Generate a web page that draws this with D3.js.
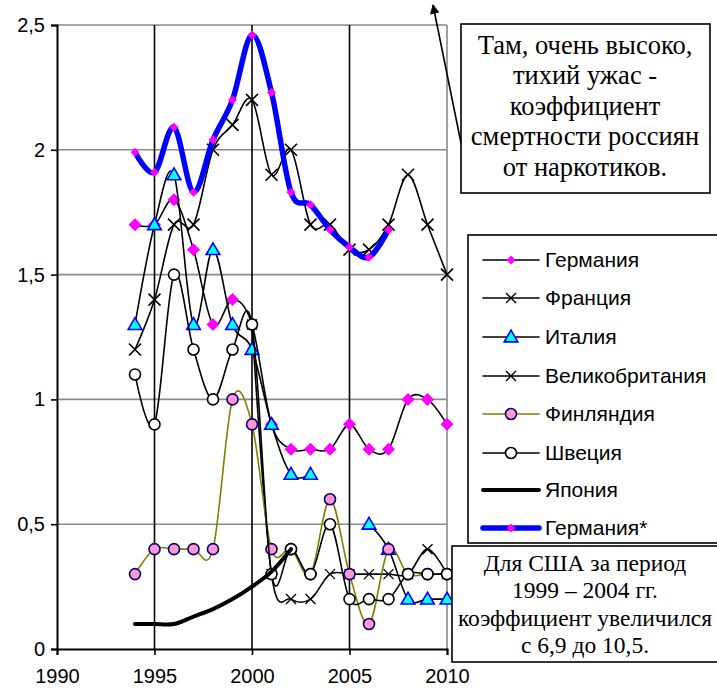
<!DOCTYPE html>
<html><head><meta charset="utf-8">
<script src="https://cdn.jsdelivr.net/npm/d3@7"></script>
<style>body{margin:0;background:#fff}svg{display:block}</style>
</head><body>
<svg id="c" width="717" height="691"></svg>
<script>
const years = [1994,1995,1996,1997,1998,1999,2000,2001,2002,2003,2004,2005,2006,2007,2008,2009,2010];
const germany     = [1.7,1.7,1.8,1.6,1.3,1.4,1.3,0.9,0.8,0.8,0.8,0.9,0.8,0.8,1.0,1.0,0.9];
const france      = [null,null,null,null,null,null,1.3,0.3,0.2,0.2,0.3,0.3,0.3,0.3,0.3,0.4,0.3];
const italy       = [1.3,1.7,1.9,1.3,1.6,1.3,1.2,0.9,0.7,0.7,null,null,0.5,0.4,0.2,0.2,0.2];
const uk          = [1.2,1.4,1.7,1.7,2.0,2.1,2.2,1.9,2.0,1.7,1.7,1.6,1.6,1.7,1.9,1.7,1.5];
const finland     = [0.3,0.4,0.4,0.4,0.4,1.0,0.9,0.4,0.4,0.3,0.6,0.3,0.1,0.4,0.3,0.3,0.3];
const sweden      = [1.1,0.9,1.5,1.2,1.0,1.2,1.3,0.3,0.4,0.3,0.5,0.2,0.2,0.2,0.3,0.3,0.3];
const japan       = [0.1,0.1,0.1,0.13,0.16,0.2,0.25,0.31,0.4,null,null,null,null,null,null,null,null];
const germanyStar = [1.99,1.91,2.09,1.83,2.04,2.2,2.46,2.23,1.83,1.78,1.68,1.61,1.57,1.68,null,null,null];
const seriesNames = ["Германия","Франция","Италия","Великобритания","Финляндия","Швеция","Япония","Германия*"];
const xTicks = [1990,1995,2000,2005,2010];
const yTicks = [0,0.5,1,1.5,2,2.5];
const note1 = ["Там, очень высоко,","тихий ужас -","коэффициент","смертности россиян","от наркотиков."];
const note2 = ["Для США за период","1999 – 2004 гг.","коэффициент увеличился","с 6,9 до 10,5."];

const svg = d3.select("#c");
const x = d3.scaleLinear().domain([1990,2010]).range([57,447]);
const y = d3.scaleLinear().domain([0,2.5]).range([649,25]);
const SANS = "'Liberation Sans', Arial, sans-serif";
const SERIF = "'Liberation Serif', 'Times New Roman', serif";

// gridlines
svg.append("g").selectAll("line").data(yTicks.filter(d=>d>0)).join("line")
  .attr("x1",x(1990)).attr("x2",x(2010)).attr("y1",d=>y(d)).attr("y2",d=>y(d))
  .attr("stroke","#8a8a8a").attr("stroke-width",1.6);
svg.append("g").selectAll("line").data(xTicks.filter(d=>d>1990)).join("line")
  .attr("x1",d=>x(d)).attr("x2",d=>x(d)).attr("y1",y(0)).attr("y2",y(2.5))
  .attr("stroke",d=>d===2010?"#8a8a8a":"#000").attr("stroke-width",1.6);

// axes
const ax = svg.append("g").attr("transform",`translate(0,${y(0)})`)
  .call(d3.axisBottom(x).tickValues(xTicks).tickSize(6).tickPadding(14).tickFormat(d3.format("d")));
const ay = svg.append("g").attr("transform",`translate(${x(1990)},0)`)
  .call(d3.axisLeft(y).tickValues(yTicks).tickSize(6).tickPadding(6).tickFormat(d=>String(d).replace(".",",")));
[ax,ay].forEach(a=>{
  a.select(".domain").attr("stroke","#000").attr("stroke-width",2);
  a.selectAll(".tick line").attr("stroke","#000").attr("stroke-width",1.6);
  a.selectAll("text").attr("font-family",SANS).attr("font-size",20).attr("fill","#000");
});

const line = d3.line().defined(d=>d.v!=null).x(d=>x(d.year)).y(d=>y(d.v)).curve(d3.curveCardinal.tension(0));
const pts = arr => years.map((yr,i)=>({year:yr,v:arr[i]}));

const diamond = s => `M0,${-s}L${s},0L0,${s}L${-s},0Z`;
function drawMarker(g, type, cx, cy) {
  if (type==="diamondBig") g.append("path").attr("d",diamond(6.5)).attr("transform",`translate(${cx},${cy})`).attr("fill","#ff00ff");
  else if (type==="diamondSmall") g.append("path").attr("d",diamond(4.5)).attr("transform",`translate(${cx},${cy})`).attr("fill","#ff00ff");
  else if (type==="x") {
    g.append("path").attr("d",`M${cx-6},${cy-6}L${cx+6},${cy+6}M${cx-6},${cy+6}L${cx+6},${cy-6}`).attr("stroke","#000").attr("stroke-width",1.6);
  } else if (type==="xs") {
    g.append("path").attr("d",`M${cx-5},${cy-5}L${cx+5},${cy+5}M${cx-5},${cy+5}L${cx+5},${cy-5}`).attr("stroke","#000").attr("stroke-width",1.4);
  } else if (type==="tri") {
    g.append("path").attr("d",d3.symbol(d3.symbolTriangle,80)()).attr("transform",`translate(${cx},${cy+1})`)
      .attr("fill","#00ffff").attr("stroke","#0000ff").attr("stroke-width",1.6);
  } else if (type==="pink") {
    g.append("circle").attr("cx",cx).attr("cy",cy).attr("r",5.5).attr("fill","#ff99cc").attr("stroke","#000080").attr("stroke-width",1.6);
  } else if (type==="white") {
    g.append("circle").attr("cx",cx).attr("cy",cy).attr("r",5.5).attr("fill","#fff").attr("stroke","#000").attr("stroke-width",1.6);
  }
}

const series = [
  {name:seriesNames[0], data:germany, color:"#000", width:1.6, marker:"diamondBig"},
  {name:seriesNames[1], data:france, color:"#000", width:1.6, marker:"xs"},
  {name:seriesNames[2], data:italy, color:"#000", width:1.6, marker:"tri"},
  {name:seriesNames[3], data:uk, color:"#000", width:1.6, marker:"x"},
  {name:seriesNames[4], data:finland, color:"#808000", width:1.6, marker:"pink"},
  {name:seriesNames[5], data:sweden, color:"#000", width:1.6, marker:"white"},
  {name:seriesNames[6], data:japan, color:"#000", width:4, marker:null},
  {name:seriesNames[7], data:germanyStar, color:"#0000ff", width:5.5, marker:"diamondSmall"}
];

series.forEach(s=>{
  const g = svg.append("g");
  g.append("path").datum(pts(s.data)).attr("d",line).attr("fill","none")
    .attr("stroke",s.color).attr("stroke-width",s.width).attr("stroke-linejoin","round").attr("stroke-linecap","round");
  if (s.marker) pts(s.data).filter(d=>d.v!=null).forEach(d=>drawMarker(g,s.marker,x(d.year),y(d.v)));
});

// legend
const lg = svg.append("g");
lg.append("rect").attr("x",468).attr("y",235).attr("width",260).attr("height",308).attr("fill","#fff").attr("stroke","#000").attr("stroke-width",1.6);
const legY = [260,298,337,376,414,453,490,528];
series.forEach((s,i)=>{
  const yy = legY[i];
  lg.append("line").attr("x1",483).attr("x2",539).attr("y1",yy).attr("y2",yy)
    .attr("stroke",s.color).attr("stroke-width",s.width).attr("stroke-linecap","round");
  if (s.marker) drawMarker(lg, s.marker==="diamondBig"?"diamondSmall":(s.marker==="x"?"xs":s.marker), 511, yy);
  lg.append("text").attr("x",545).attr("y",yy).attr("dy","0.35em").attr("font-family",SANS).attr("font-size",21).text(s.name);
});

// note boxes
const b1 = svg.append("g");
b1.append("rect").attr("x",461).attr("y",24).attr("width",249).attr("height",169).attr("fill","#fff").attr("stroke","#000").attr("stroke-width",1.6);
note1.forEach((t,i)=>b1.append("text").attr("x",585).attr("y",45+i*30.5).attr("dy","0.33em").attr("text-anchor","middle")
  .attr("font-family",SERIF).attr("font-size",26.5).text(t));
const b2 = svg.append("g");
b2.append("rect").attr("x",452).attr("y",546).attr("width",280).attr("height",116).attr("fill","#fff").attr("stroke","#000").attr("stroke-width",1.6);
note2.forEach((t,i)=>b2.append("text").attr("x",585).attr("y",563+i*27.5).attr("dy","0.33em").attr("text-anchor","middle")
  .attr("font-family",SERIF).attr("font-size",23.5).text(t));

// arrow
svg.append("defs").append("marker").attr("id","ah").attr("viewBox","0 0 10 10").attr("refX",9).attr("refY",5)
  .attr("markerWidth",8).attr("markerHeight",6).attr("orient","auto")
  .append("path").attr("d","M0,0L10,5L0,10Z").attr("fill","#000");
svg.append("line").attr("x1",461).attr("y1",143).attr("x2",433).attr("y2",5)
  .attr("stroke","#000").attr("stroke-width",1.6).attr("marker-end","url(#ah)");
</script>
</body></html>
